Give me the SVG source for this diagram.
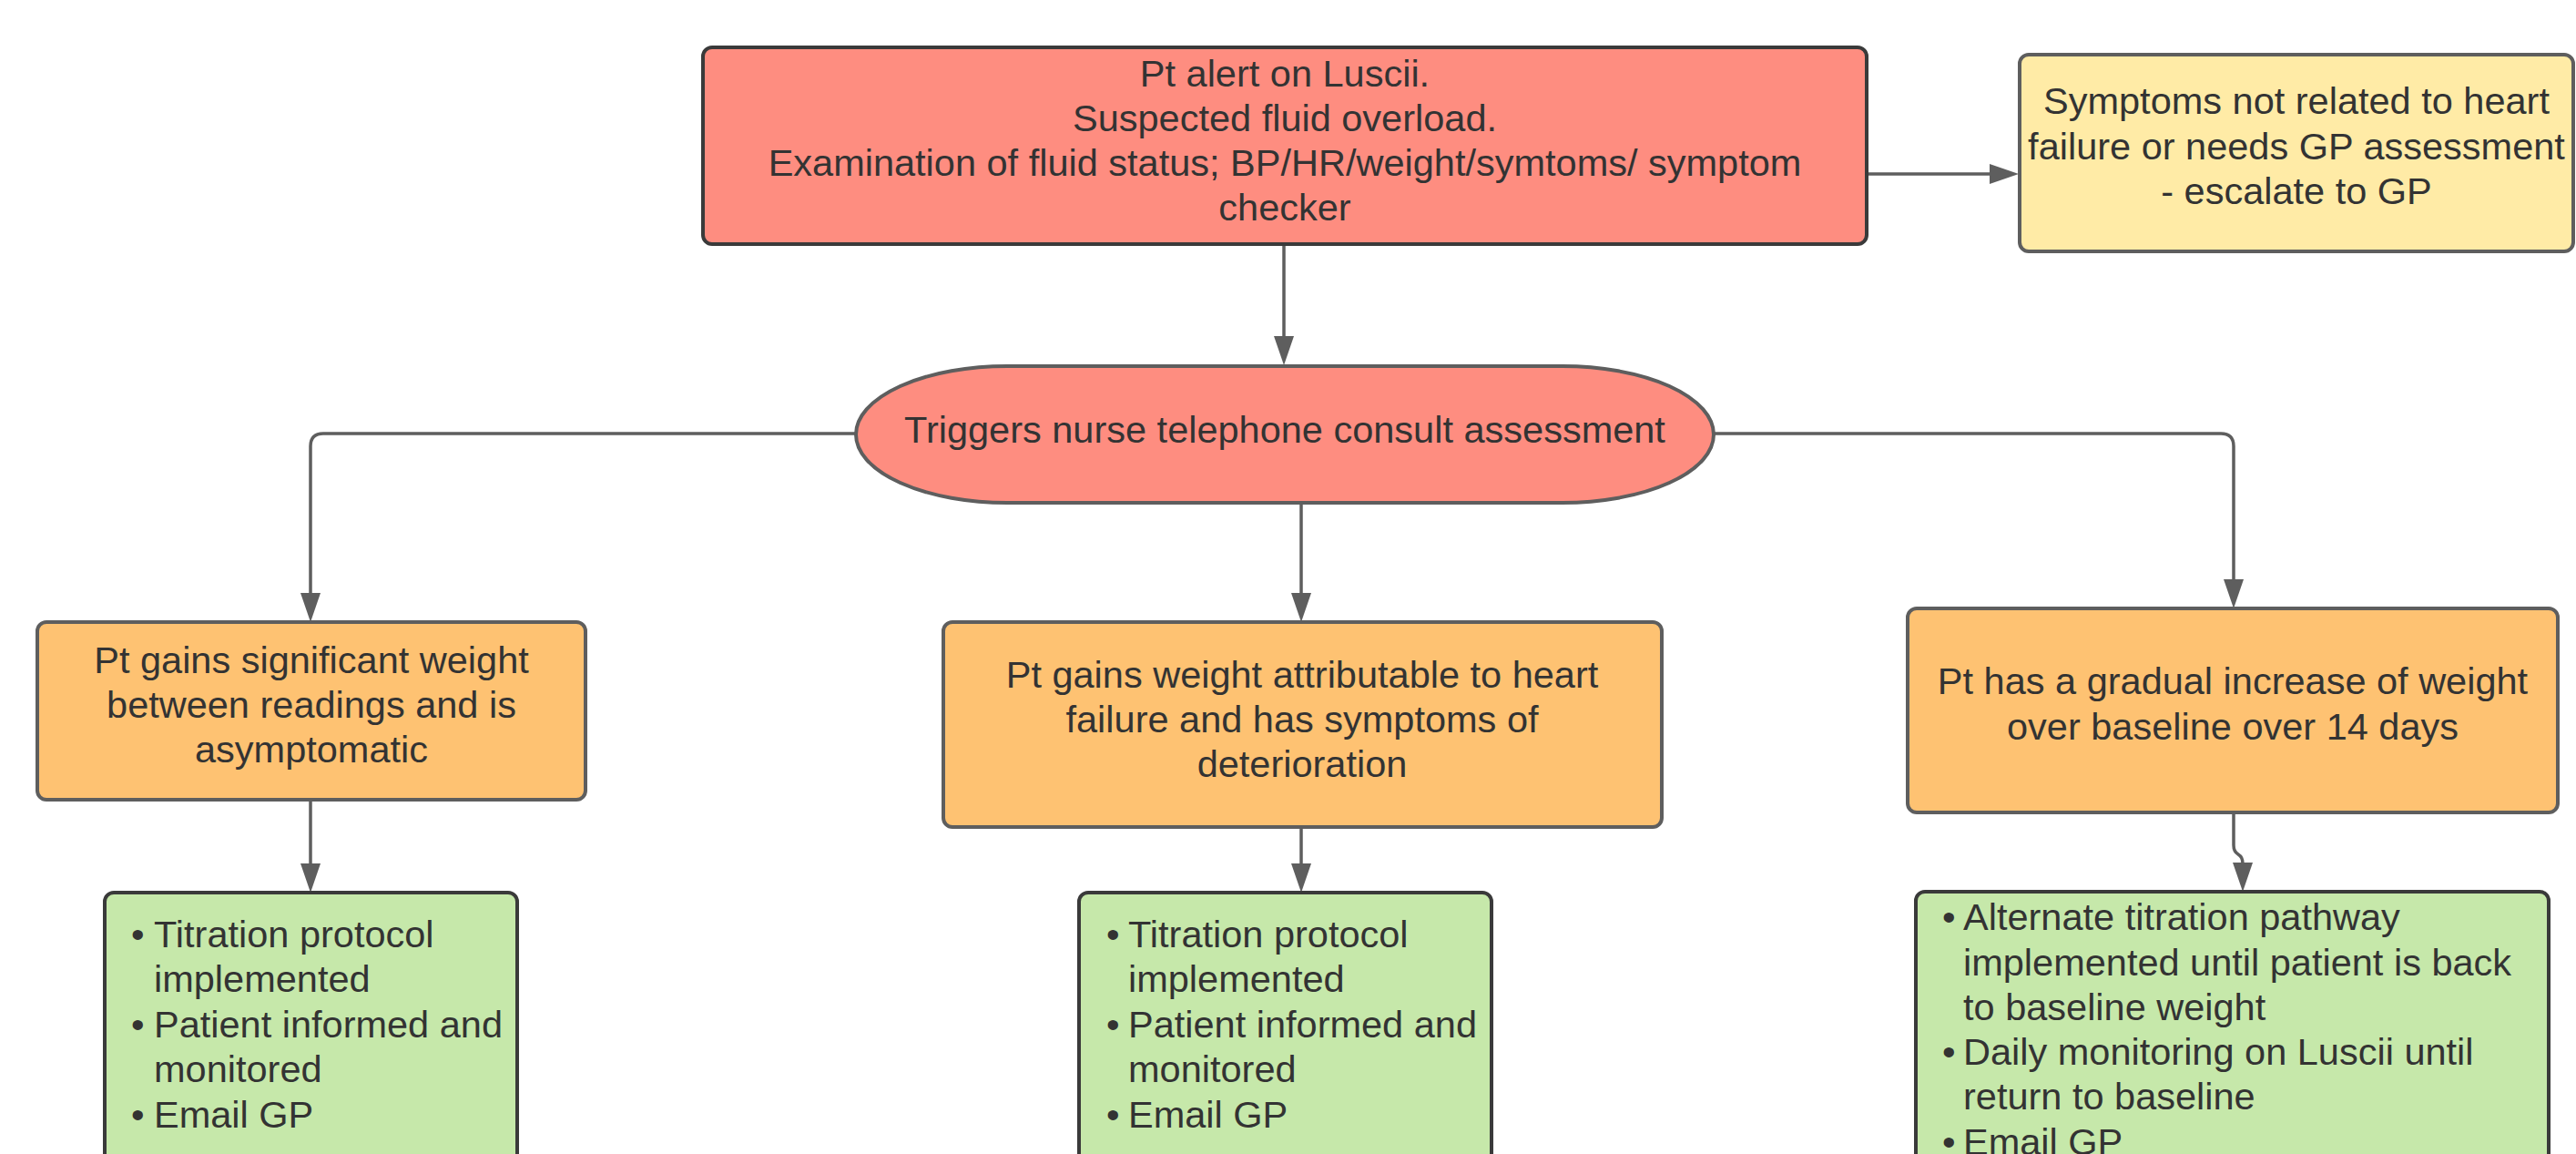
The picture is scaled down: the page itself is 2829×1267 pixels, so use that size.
<svg xmlns="http://www.w3.org/2000/svg" width="2829" height="1267" viewBox="0 0 2829 1267">
<style>
text{font-family:"Liberation Sans",Arial,sans-serif;font-size:41.5px;fill:#333333}
.c{text-anchor:middle}
.red{fill:#fe8d80;stroke:#3a3a3a;stroke-width:4}
.redg{fill:#fe8d80;stroke:#5e5e5e;stroke-width:4}
.yel{fill:#ffeba6;stroke:#5e5e5e;stroke-width:4}
.org{fill:#fec272;stroke:#5e5e5e;stroke-width:4}
.grn{fill:#c6e8aa;stroke:#3a3a3a;stroke-width:4}
.ln{fill:none;stroke:#5e5e5e;stroke-width:3.5;marker-end:url(#ah)}
</style>
<defs>
<marker id="ah" markerUnits="userSpaceOnUse" markerWidth="32" markerHeight="22" refX="12" refY="11" orient="auto">
<path d="M0,0 L32,11 L0,22 z" fill="#5e5e5e"/>
</marker>
</defs>
<rect width="2829" height="1267" fill="#ffffff"/>
<g id="connectors">
<path class="ln" d="M2051,191 H2197"/>
<path class="ln" d="M1410,269 V381"/>
<path class="ln" d="M940,476 H355 Q341,476 341,490 V663"/>
<path class="ln" d="M1429,552 V663"/>
<path class="ln" d="M1882,476 H2439 Q2453,476 2453,490 V648"/>
<path class="ln" d="M341,878 V960"/>
<path class="ln" d="M1429,908 V960"/>
<path class="ln" d="M2453,893 V928 Q2453,935 2458,938 Q2463,941 2463,948 V959"/>
</g>
<g id="node-alert">
<rect class="red" x="772" y="52" width="1278" height="216" rx="10"/>
<text class="c" x="1411" y="95">Pt alert on Luscii.</text>
<text class="c" x="1411" y="144">Suspected fluid overload.</text>
<text class="c" x="1411" y="193">Examination of fluid status; BP/HR/weight/symtoms/ symptom</text>
<text class="c" x="1411" y="242">checker</text>
</g>
<g id="node-gp">
<rect class="yel" x="2218" y="60" width="608" height="216" rx="10"/>
<text class="c" x="2522" y="125">Symptoms not related to heart</text>
<text class="c" x="2522" y="175">failure or needs GP assessment</text>
<text class="c" x="2522" y="224">- escalate to GP</text>
</g>
<g id="node-triggers">
<rect class="redg" x="940" y="402" width="942" height="150" rx="166" ry="75"/>
<text class="c" x="1411" y="486">Triggers nurse telephone consult assessment</text>
</g>
<g id="node-asymptomatic">
<rect class="org" x="41" y="683" width="602" height="195" rx="10"/>
<text class="c" x="342" y="739">Pt gains significant weight</text>
<text class="c" x="342" y="788">between readings and is</text>
<text class="c" x="342" y="837">asymptomatic</text>
</g>
<g id="node-deterioration">
<rect class="org" x="1036" y="683" width="789" height="225" rx="10"/>
<text class="c" x="1430" y="755">Pt gains weight attributable to heart</text>
<text class="c" x="1430" y="804">failure and has symptoms of</text>
<text class="c" x="1430" y="853">deterioration</text>
</g>
<g id="node-gradual">
<rect class="org" x="2095" y="668" width="714" height="224" rx="10"/>
<text class="c" x="2452" y="762">Pt has a gradual increase of weight</text>
<text class="c" x="2452" y="812">over baseline over 14 days</text>
</g>
<g id="node-action-left">
<rect class="grn" x="115" y="980" width="453" height="320" rx="10"/>
<text x="144" y="1040">•</text><text x="169" y="1040">Titration protocol</text>
<text x="169" y="1089">implemented</text>
<text x="144" y="1139">•</text><text x="169" y="1139">Patient informed and</text>
<text x="169" y="1188">monitored</text>
<text x="144" y="1238">•</text><text x="169" y="1238">Email GP</text>
</g>
<g id="node-action-middle">
<rect class="grn" x="1185" y="980" width="453" height="320" rx="10"/>
<text x="1215" y="1040">•</text><text x="1239" y="1040">Titration protocol</text>
<text x="1239" y="1089">implemented</text>
<text x="1215" y="1139">•</text><text x="1239" y="1139">Patient informed and</text>
<text x="1239" y="1188">monitored</text>
<text x="1215" y="1238">•</text><text x="1239" y="1238">Email GP</text>
</g>
<g id="node-action-right">
<rect class="grn" x="2104" y="979" width="695" height="320" rx="10"/>
<text x="2133" y="1021">•</text><text x="2156" y="1021">Alternate titration pathway</text>
<text x="2156" y="1071">implemented until patient is back</text>
<text x="2156" y="1120">to baseline weight</text>
<text x="2133" y="1169">•</text><text x="2156" y="1169">Daily monitoring on Luscii until</text>
<text x="2156" y="1218">return to baseline</text>
<text x="2133" y="1268">•</text><text x="2156" y="1268">Email GP</text>
</g>
</svg>
